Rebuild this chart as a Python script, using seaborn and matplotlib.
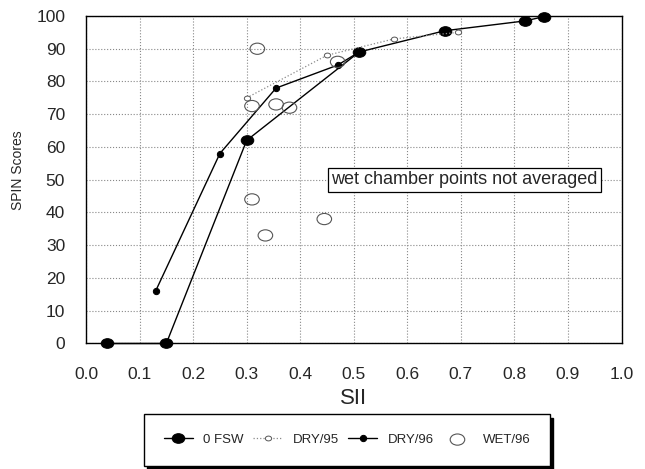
import matplotlib
matplotlib.use('Agg')
import matplotlib.pyplot as plt
import matplotlib.transforms as mtransforms
from matplotlib.path import Path
from matplotlib.ticker import MultipleLocator
import seaborn as sns

# SII vs SPIN scores
fsw_x = [0.04, 0.15, 0.30, 0.51, 0.67, 0.82, 0.855]
fsw_y = [0, 0, 62, 89, 95.5, 98.5, 99.8]

dry95_x = [0.30, 0.45, 0.575, 0.695]
dry95_y = [75, 88, 93, 95]

dry96_x = [0.13, 0.25, 0.355, 0.47, 0.51]
dry96_y = [16, 58, 78, 85, 89]

wet96_x = [0.32, 0.31, 0.355, 0.38, 0.47, 0.31, 0.445, 0.335]
wet96_y = [90, 72.5, 73, 72, 86, 44, 38, 33]

x_ticks = [0.0, 0.1, 0.2, 0.3, 0.4, 0.5, 0.6, 0.7, 0.8, 0.9, 1.0]
y_ticks = [0, 10, 20, 30, 40, 50, 60, 70, 80, 90, 100]

sns.set_style('white')
plt.rcParams['font.family'] = ['Liberation Sans', 'DejaVu Sans']

# slightly wide ellipse, like the scanned markers
ellipse = Path.unit_circle().transformed(mtransforms.Affine2D().scale(1.3, 1.0))

fig = plt.figure(figsize=(6.45, 4.69), dpi=100)
ax = fig.add_axes([0.1333, 0.2676, 0.9636 - 0.1333, 0.9659 - 0.2676])

sns.lineplot(x=fsw_x, y=fsw_y, sort=False, ax=ax, color='black', lw=1.0,
             marker=ellipse, markersize=9, markeredgecolor='black', label='0 FSW')
sns.lineplot(x=dry95_x, y=dry95_y, sort=False, ax=ax, color='#8a8a8a', lw=0.9, ls=':',
             marker=ellipse, markersize=4.5, markerfacecolor='white',
             markeredgecolor='#555555', markeredgewidth=0.7, label='DRY/95')
sns.lineplot(x=dry96_x, y=dry96_y, sort=False, ax=ax, color='black', lw=1.0,
             marker='o', markersize=4.5, markeredgecolor='black', label='DRY/96')
sns.scatterplot(x=wet96_x, y=wet96_y, ax=ax, marker=ellipse, s=110,
                facecolor='none', edgecolor='#555555', linewidth=0.8, label='WET/96', zorder=3)

ax.set_xlim(0, 1.0)
ax.set_ylim(0, 100)
ax.set_xticks(x_ticks)
ax.set_yticks(y_ticks)
ax.set_xticklabels([f'{v:.1f}' for v in x_ticks])
ax.xaxis.set_minor_locator(MultipleLocator(0.05))
ax.yaxis.set_minor_locator(MultipleLocator(5))
ax.tick_params(which='major', direction='inout', length=8, width=1, color='black',
               labelsize=12.5, pad=11)
ax.tick_params(axis='x', which='major', pad=13)
ax.tick_params(which='minor', direction='inout', length=7, width=0.9, color='black')
ax.grid(True, which='major', color='#888888', ls=':', lw=0.8)
for s in ax.spines.values():
    s.set_color('black')
    s.set_linewidth(1.0)
ax.set_axisbelow(True)
for ln in ax.lines:
    ln.set_clip_on(False)
for c in ax.collections:
    c.set_clip_on(False)

ax.set_xlabel('SII', fontsize=16, labelpad=4.5)
ax.set_ylabel('SPIN Scores', fontsize=10)
ax.yaxis.set_label_coords(-0.113, 0.53)

ax.text(0.707, 50, 'wet chamber points not averaged', fontsize=13, ha='center', va='center',
        bbox=dict(boxstyle='square,pad=0.2', facecolor='white', edgecolor='black', lw=0.9))

handles, labels = ax.get_legend_handles_labels()
ax.get_legend().remove()
fig.legend(handles, labels, loc='center', bbox_to_anchor=(0.538, 0.062), ncol=4,
           frameon=True, fancybox=False, edgecolor='black', fontsize=9.5,
           shadow={'color': 'black', 'alpha': 1.0, 'ox': 2, 'oy': -3},
           handlelength=2.2, columnspacing=0.7, handletextpad=0.8,
           borderpad=1.5, framealpha=1.0)

fig.savefig('out.png', dpi=100)
